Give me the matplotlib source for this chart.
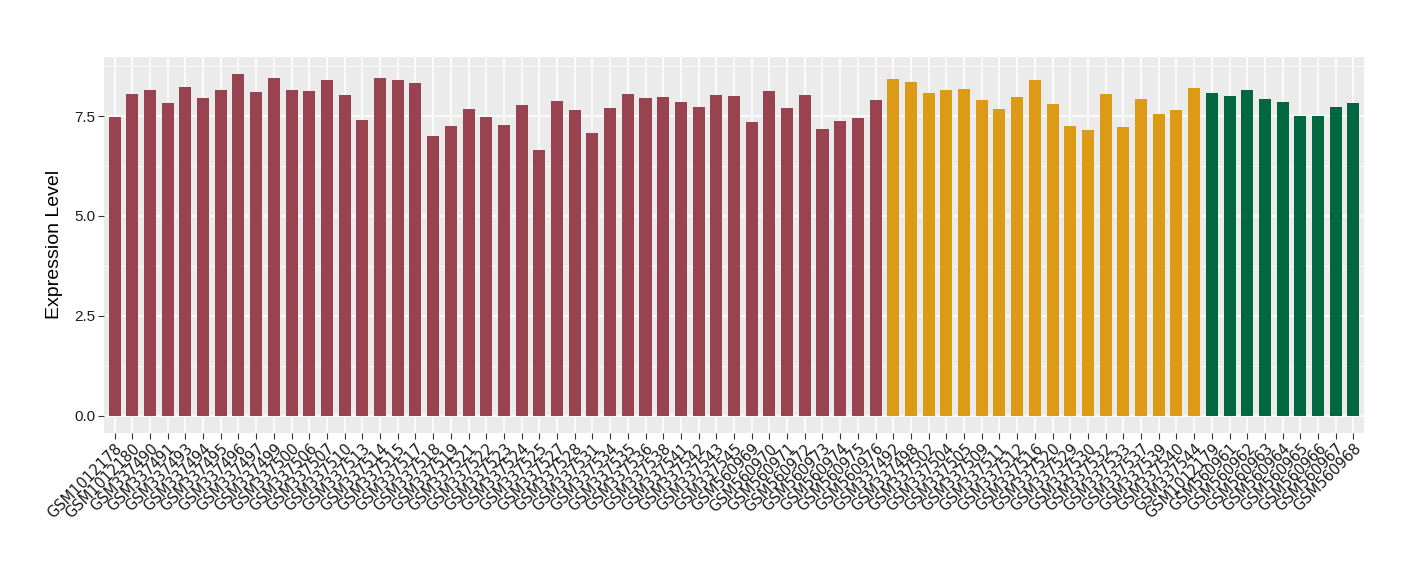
import numpy as np
import matplotlib.pyplot as plt

plt.rcParams['font.family'] = ['Liberation Sans', 'DejaVu Sans']

# Data
red_samples = ['GSM1012178', 'GSM1012180', 'GSM337490', 'GSM337491', 'GSM337493', 'GSM337494',
               'GSM337495', 'GSM337496', 'GSM337497', 'GSM337499', 'GSM337500', 'GSM337506',
               'GSM337507', 'GSM337510', 'GSM337513', 'GSM337514', 'GSM337515', 'GSM337517',
               'GSM337518', 'GSM337519', 'GSM337521', 'GSM337522', 'GSM337523', 'GSM337524',
               'GSM337525', 'GSM337527', 'GSM337528', 'GSM337531', 'GSM337534', 'GSM337535',
               'GSM337536', 'GSM337538', 'GSM337541', 'GSM337542', 'GSM337543', 'GSM337545',
               'GSM560969', 'GSM560970', 'GSM560971', 'GSM560972', 'GSM560973', 'GSM560974',
               'GSM560975', 'GSM560976']
red_values = [7.48, 8.05, 8.15, 7.83, 8.23, 7.95, 8.15, 8.55, 8.10, 8.45, 8.15, 8.12,
              8.40, 8.03, 7.40, 8.45, 8.40, 8.33, 7.00, 7.25, 7.67, 7.48, 7.28, 7.78,
              6.65, 7.88, 7.65, 7.08, 7.70, 8.05, 7.95, 7.97, 7.85, 7.73, 8.03, 8.00,
              7.35, 8.12, 7.70, 8.03, 7.18, 7.38, 7.45, 7.90]

orange_samples = ['GSM337492', 'GSM337498', 'GSM337502', 'GSM337504', 'GSM337505', 'GSM337509',
                  'GSM337511', 'GSM337512', 'GSM337516', 'GSM337520', 'GSM337529', 'GSM337530',
                  'GSM337532', 'GSM337533', 'GSM337537', 'GSM337539', 'GSM337540', 'GSM337544']
orange_values = [8.43, 8.35, 8.08, 8.15, 8.18, 7.90, 7.68, 7.98, 8.40, 7.80, 7.25, 7.15,
                 8.05, 7.23, 7.93, 7.55, 7.65, 8.20]

green_samples = ['GSM1012179', 'GSM560961', 'GSM560962', 'GSM560963', 'GSM560964', 'GSM560965',
                 'GSM560966', 'GSM560967', 'GSM560968']
green_values = [8.08, 8.00, 8.15, 7.93, 7.85, 7.50, 7.50, 7.73, 7.83]

groups = [(red_samples, red_values, '#9A4350'),
          (orange_samples, orange_values, '#DD9A14'),
          (green_samples, green_values, '#00673F')]

fig = plt.figure(figsize=(14.2, 5.8), dpi=100)
ax = fig.add_axes([0.0732, 0.254, 0.8874, 0.6476])
ax.set_facecolor('#EBEBEB')

labels = []
start = 0
for samples, values, color in groups:
    x = np.arange(start, start + len(samples))
    ax.bar(x, values, width=0.68, color=color, zorder=3)
    labels += samples
    start += len(samples)

n = len(labels)
ax.set_xlim(-0.6, n - 1 + 0.6)
ymax = max(red_values + orange_values + green_values)
ax.set_ylim(-0.05 * ymax, 1.05 * ymax)

ax.set_xticks(np.arange(n))
ax.set_xticklabels(labels, rotation=45, ha='right', va='top', rotation_mode='anchor',
                   fontsize=10.5, family='DejaVu Sans')
ax.set_yticks([0, 2.5, 5.0, 7.5])
ax.set_yticklabels(['0.0', '2.5', '5.0', '7.5'], fontsize=11)
ax.set_yticks([1.25, 3.75, 6.25, 8.75], minor=True)

ax.grid(which='major', color='white', linewidth=1.1, zorder=0)
ax.grid(which='minor', axis='y', color='white', linewidth=0.55, zorder=0)
ax.tick_params(which='major', length=4, color='#333333', labelcolor='#1a1a1a', pad=2)
ax.tick_params(which='minor', length=0)
for s in ax.spines.values():
    s.set_visible(False)
ax.set_axisbelow(True)

ax.set_ylabel('Expression Level', fontsize=14, labelpad=8)

fig.savefig('out.png', dpi=100)
